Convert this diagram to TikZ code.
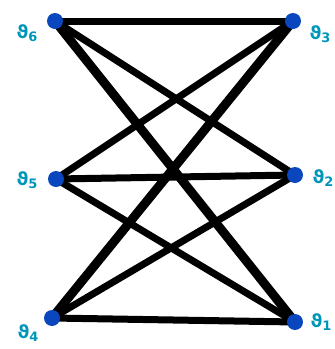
\documentclass[tikz,border=0pt]{standalone}
\usepackage{fontspec}
\newfontfamily\lblfont{DejaVu Sans Bold}
\definecolor{lblteal}{RGB}{0,150,185}
\definecolor{dotblue}{RGB}{10,70,190}
\begin{document}
\begin{tikzpicture}[x=1pt,y=-1pt,
  vtx/.style={circle,fill=dotblue,inner sep=0pt,minimum size=16pt},
  lbl/.style={text=lblteal,font=\lblfont\fontsize{18}{18}\selectfont,inner sep=0pt},
  edge/.style={line width=7pt,black},
  thickedge/.style={line width=9pt,black}]
\useasboundingbox (0,0) rectangle (335,349);
\coordinate (c6) at (55,21);
\coordinate (c3) at (293,21);
\coordinate (c5) at (56,179);
\coordinate (c2) at (295,175);
\coordinate (c4) at (52,318);
\coordinate (c1) at (295,322);
\draw[edge] (c6) -- (c3);
\draw[edge] (c6) -- (c2);
\draw[thickedge] (c6) -- (c1);
\draw[edge] (c5) -- (c3);
\draw[edge] (c5) -- (c2);
\draw[edge] (c5) -- (c1);
\draw[thickedge] (c4) -- (c3);
\draw[edge] (c4) -- (c2);
\draw[edge] (c4) -- (c1);
\node[vtx] (v6) at (c6) {};
\node[vtx] (v3) at (c3) {};
\node[vtx] (v5) at (c5) {};
\node[vtx] (v2) at (c2) {};
\node[vtx] (v4) at (c4) {};
\node[vtx] (v1) at (c1) {};
\node[lbl] (l6) at (27,33) {ϑ\raisebox{-3pt}{\fontsize{13}{13}\selectfont 6}};
\node[lbl] (l3) at (320,34) {ϑ\raisebox{-3pt}{\fontsize{13}{13}\selectfont 3}};
\node[lbl] (l5) at (27,180) {ϑ\raisebox{-3pt}{\fontsize{13}{13}\selectfont 5}};
\node[lbl] (l2) at (323,178) {ϑ\raisebox{-3pt}{\fontsize{13}{13}\selectfont 2}};
\node[lbl] (l4) at (28,333) {ϑ\raisebox{-3pt}{\fontsize{13}{13}\selectfont 4}};
\node[lbl] (l1) at (321,322) {ϑ\raisebox{-3pt}{\fontsize{13}{13}\selectfont 1}};
\end{tikzpicture}
\end{document}
